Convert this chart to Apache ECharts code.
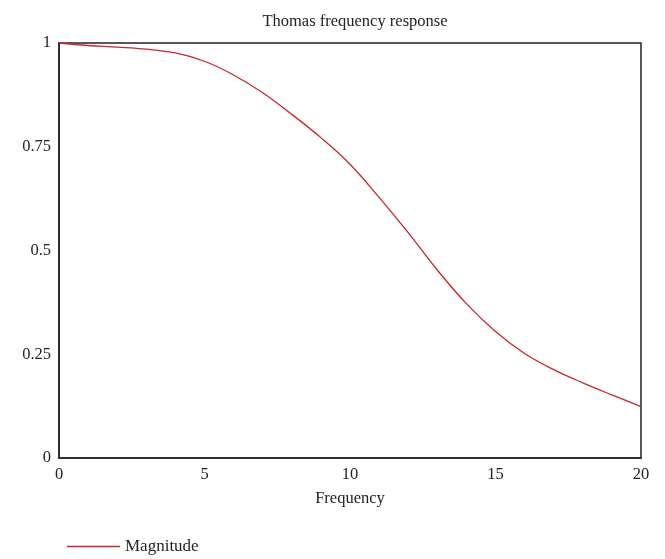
<!DOCTYPE html>
<html>
<head>
<meta charset="utf-8">
<script src="https://cdn.jsdelivr.net/npm/echarts@6/dist/echarts.min.js"></script>
<style>
  html, body { margin: 0; padding: 0; background: #fff; }
  #chart { width: 665px; height: 559px; }
</style>
</head>
<body>
<div id="chart"></div>
<script>
  // 数据
  var frequency = [0, 1, 2, 3, 4, 5, 6, 7, 8, 9, 10, 11, 12, 13, 14, 15, 16, 17, 18, 19, 20];
  var magnitude = [1.0, 0.994, 0.990, 0.985, 0.976, 0.956, 0.923, 0.880, 0.828, 0.772, 0.708,
                   0.628, 0.543, 0.453, 0.372, 0.305, 0.252, 0.213, 0.181, 0.152, 0.124];
  var yTicks = [0, 0.25, 0.5, 0.75, 1];

  var points = frequency.map(function (f, i) { return [f, magnitude[i]]; });

  var chart = echarts.init(document.getElementById('chart'));
  var font = '"Liberation Serif", "DejaVu Serif", serif';

  var option = {
    backgroundColor: '#fff',
    textStyle: { fontFamily: font, color: '#222' },
    title: {
      text: 'Thomas frequency response',
      left: 350,
      textAlign: 'center',
      top: 8,
      textStyle: { fontFamily: font, fontSize: 16.5, fontWeight: 'normal', color: '#222' }
    },
    legend: {
      data: [{ name: 'Magnitude', icon: 'rect' }],
      left: 62,
      top: 533,
      itemWidth: 53,
      itemHeight: 1.5,
      textStyle: { fontFamily: font, fontSize: 17, color: '#222' }
    },
    grid: {
      left: 59,
      right: 24,
      top: 43,
      bottom: 101,
      show: true,
      borderColor: '#222',
      borderWidth: 1.5
    },
    xAxis: {
      type: 'value',
      min: 0,
      max: 20,
      interval: 5,
      name: 'Frequency',
      nameLocation: 'middle',
      nameGap: 32,
      nameTextStyle: { fontFamily: font, fontSize: 16.5, color: '#222' },
      axisLine: { show: true, lineStyle: { color: '#222', width: 1.5 } },
      axisTick: { show: false },
      splitLine: { show: false },
      axisLabel: { fontFamily: font, fontSize: 16.5, color: '#222', margin: 8 }
    },
    yAxis: {
      type: 'value',
      min: 0,
      max: 1,
      interval: 0.25,
      axisLine: { show: true, lineStyle: { color: '#222', width: 1.5 } },
      axisTick: { show: false },
      splitLine: { show: false },
      axisLabel: {
        fontFamily: font, fontSize: 16.5, color: '#222', margin: 8,
        formatter: function (v) { return yTicks.indexOf(v) >= 0 ? String(v) : ''; }
      }
    },
    series: [{
      name: 'Magnitude',
      type: 'line',
      data: points,
      smooth: 0.4,
      symbol: 'none',
      lineStyle: { color: '#c8262a', width: 1.3 },
      itemStyle: { color: '#c8262a' }
    }]
  };

  chart.setOption(option);
</script>
</body>
</html>
